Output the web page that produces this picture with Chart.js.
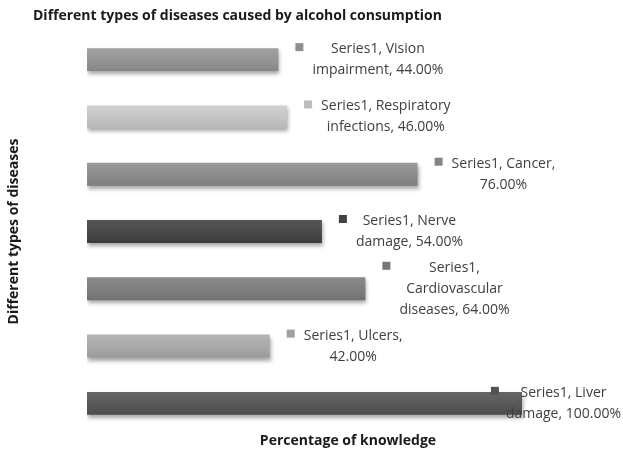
<!DOCTYPE html>
<html>
<head>
<meta charset="utf-8">
<script src="https://cdn.jsdelivr.net/npm/chart.js@4/dist/chart.umd.min.js"></script>
<style>
  html, body { margin: 0; padding: 0; background: #ffffff; }
  #wrap { width: 623px; height: 453px; }
</style>
</head>
<body>
<div id="wrap"><canvas id="c" width="623" height="453"></canvas></div>
<script>
// ---- data ----
const chartTitle = 'Different types of diseases caused by alcohol consumption';
const xAxisTitle = 'Percentage of knowledge';
const yAxisTitle = 'Different types of diseases';
const seriesName = 'Series1';
const categories = ['Vision impairment', 'Respiratory infections', 'Cancer', 'Nerve damage',
                    'Cardiovascular diseases', 'Ulcers', 'Liver damage'];
const values = [44, 46, 76, 54, 64, 42, 100];
const barColors = ['#939393', '#c3c3c3', '#8b8b8b', '#474747', '#7d7d7d', '#a7a7a7', '#585858'];

const labelFont = '14px "Open Sans"';
const titleFont = 'bold 14px "Open Sans"';

function shade(hex, amt) {
  const n = parseInt(hex.slice(1), 16);
  const r = Math.max(0, Math.min(255, (n >> 16) + amt));
  const g = Math.max(0, Math.min(255, ((n >> 8) & 255) + amt));
  const b = Math.max(0, Math.min(255, (n & 255) + amt));
  return `rgb(${r},${g},${b})`;
}

function wrapText(ctx, text, maxW) {
  const words = text.split(' ');
  const lines = [];
  let cur = '';
  for (const w of words) {
    const t = cur ? cur + ' ' + w : w;
    if (cur && ctx.measureText(t).width > maxW) { lines.push(cur); cur = w; }
    else cur = t;
  }
  if (cur) lines.push(cur);
  return lines;
}

const decorPlugin = {
  id: 'decor',
  beforeDatasetsDraw(chart) {
    const ctx = chart.ctx;
    ctx.save();
    ctx.shadowColor = 'rgba(0,0,0,0.35)';
    ctx.shadowBlur = 4;
    ctx.shadowOffsetX = 1;
    ctx.shadowOffsetY = 3;
  },
  afterDatasetsDraw(chart) {
    const ctx = chart.ctx;
    ctx.restore();
    // chart title
    ctx.save();
    ctx.font = titleFont;
    ctx.fillStyle = '#1a1a1a';
    ctx.textBaseline = 'middle';
    ctx.textAlign = 'left';
    ctx.fillText(chartTitle, 33, 16);
    ctx.restore();
    // data labels
    ctx.save();
    ctx.font = labelFont;
    const maxW = ctx.measureText('Series1, Respiratory').width + 3;
    const meta = chart.getDatasetMeta(0);
    const lineH = 21;
    meta.data.forEach((bar, i) => {
      const text = `${seriesName}, ${categories[i]}, ${values[i].toFixed(2)}%`;
      const lines = wrapText(ctx, text, maxW);
      const w = Math.max(...lines.map(l => ctx.measureText(l).width));
      let markerX = bar.x + 17;
      let textX = markerX + 17;
      if (textX + w > 621) { textX = 621 - w; markerX = textX - 15; }
      const firstY = bar.y - (lines.length - 1) * lineH / 2;
      ctx.fillStyle = shade(barColors[i], -6);
      ctx.fillRect(markerX, firstY - 6, 8, 8);
      ctx.fillStyle = '#404040';
      ctx.textAlign = 'center';
      ctx.textBaseline = 'middle';
      lines.forEach((l, k) => ctx.fillText(l, textX + w / 2, firstY + k * lineH));
    });
    ctx.restore();
  }
};

new Chart(document.getElementById('c'), {
  type: 'bar',
  data: {
    labels: categories,
    datasets: [{
      label: seriesName,
      data: values,
      backgroundColor: (c) => {
        const chart = c.chart;
        const base = barColors[c.dataIndex];
        if (!chart.chartArea || !chart.scales.y) return base;
        const y = chart.scales.y.getPixelForValue(c.dataIndex);
        const g = chart.ctx.createLinearGradient(0, y - 12, 0, y + 12);
        g.addColorStop(0, shade(base, 14));
        g.addColorStop(0.6, base);
        g.addColorStop(1, shade(base, -14));
        return g;
      },
      borderWidth: 0,
      barPercentage: 0.4,
      categoryPercentage: 1
    }]
  },
  options: {
    indexAxis: 'y',
    responsive: false,
    animation: false,
    devicePixelRatio: 1,
    layout: { padding: { top: 31, left: 0, right: 14, bottom: 0 } },
    plugins: { legend: { display: false }, tooltip: { enabled: false }, title: { display: false } },
    scales: {
      x: {
        min: 0, max: 120,
        ticks: { display: false },
        grid: { display: false, drawTicks: false },
        border: { display: false },
        title: { display: true, text: xAxisTitle, font: { family: 'Open Sans', size: 14, weight: 'bold' },
                 color: '#1a1a1a', padding: { top: 0, bottom: 4 } },
        afterFit: (s) => { s.height = 21; }
      },
      y: {
        ticks: { display: false },
        grid: { display: false, drawTicks: false },
        border: { display: false },
        title: { display: true, text: yAxisTitle, font: { family: 'Open Sans', size: 14, weight: 'bold' },
                 color: '#1a1a1a', padding: { top: 6, bottom: 0 } },
        afterFit: (s) => { s.width = 87; }
      }
    }
  },
  plugins: [decorPlugin]
});
</script>
</body>
</html>
